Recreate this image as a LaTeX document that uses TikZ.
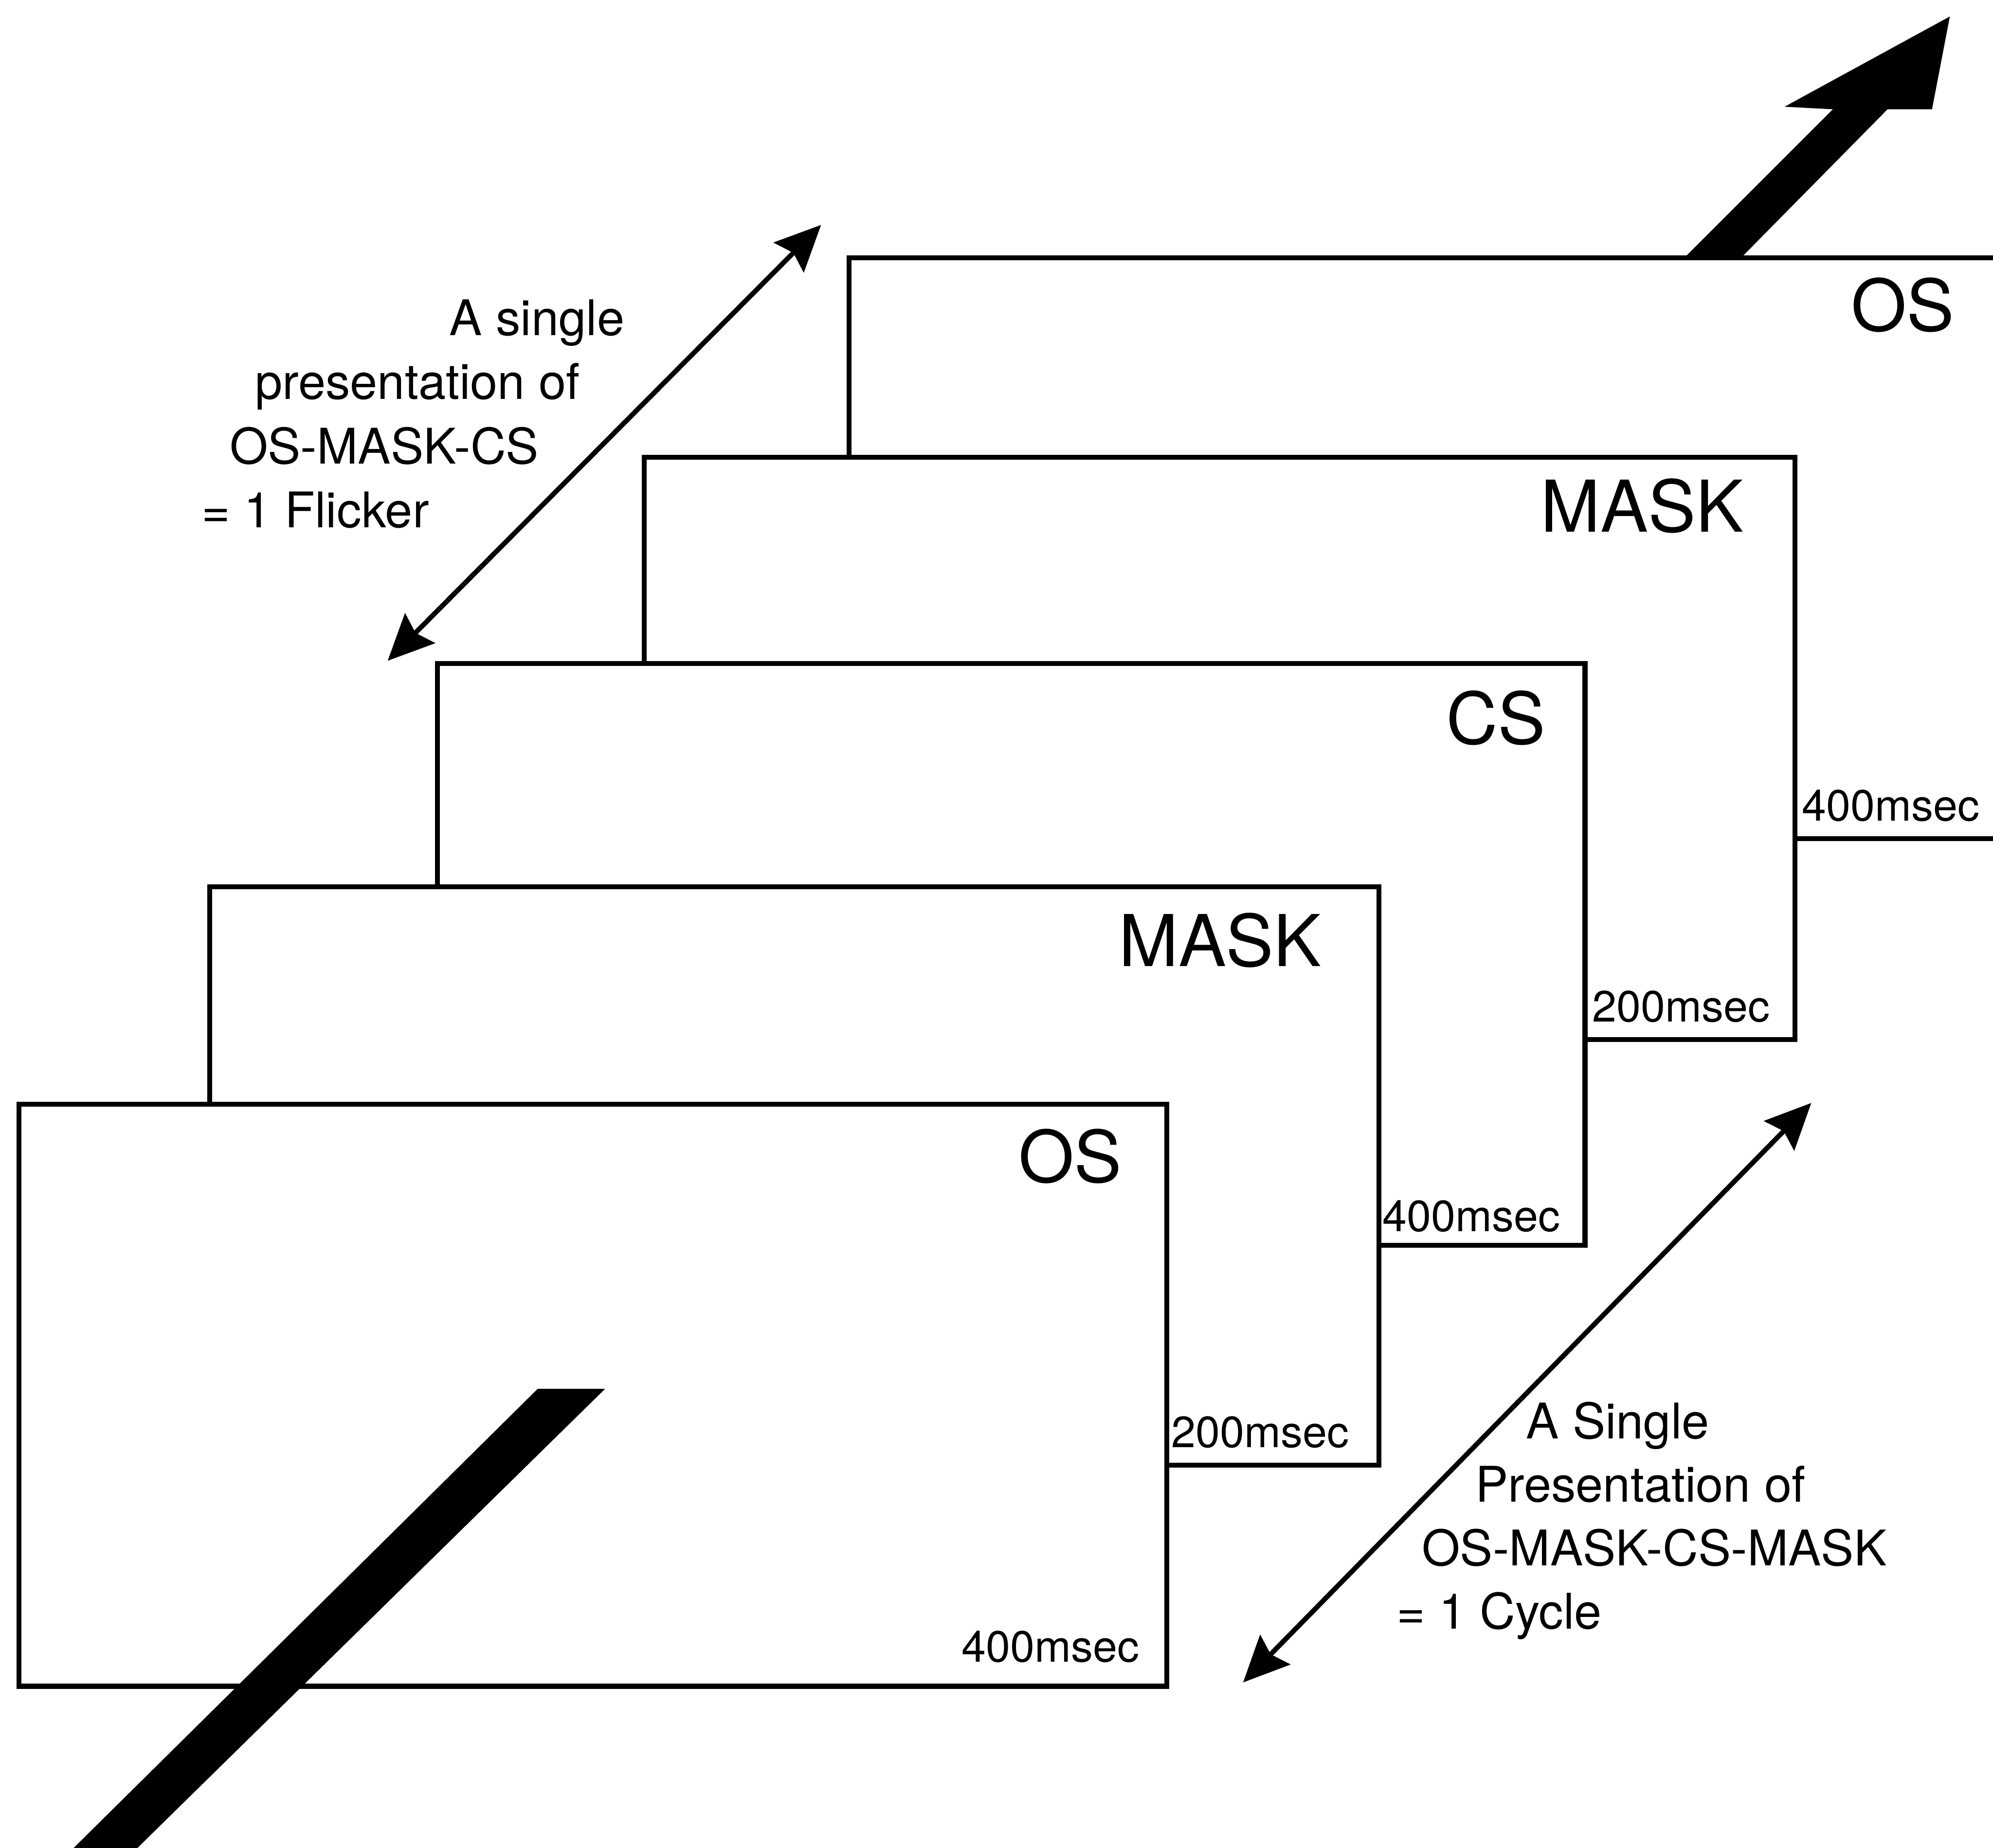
\documentclass[tikz,border=0pt]{standalone}
\usepackage{fontspec}
\setmainfont{TeX Gyre Heros}
\usetikzlibrary{arrows.meta}

\tikzset{
  frame/.style={line width=1.1pt, fill=white},
  biglab/.style={font=\fontsize{16}{19}\selectfont, inner sep=0pt},
  timelab/.style={font=\fontsize{9.8}{12}\selectfont, inner sep=0pt, anchor=base east},
  notelab/.style={font=\fontsize{11}{13}\selectfont, inner sep=0pt, anchor=base west},
  spanarrow/.style={line width=1.1pt,
    {Stealth[length=3.6mm,width=3.3mm,inset=0.5mm]}-{Stealth[length=3.6mm,width=3.3mm,inset=0.5mm]}},
}

\begin{document}
\begin{tikzpicture}
  \useasboundingbox (0,0) rectangle (15.68,14.54);
  \clip (0,0) rectangle (15.68,14.54);

  %%%%% TIME AXIS, BACK END %%%%%
  \fill (12.98,12.24) -- (13.43,12.24) -- (14.85,13.68) -- (15.20,13.68)
     -- (15.34,14.41) -- (14.04,13.70) -- (14.42,13.68) -- cycle;

  %%%%% FRAMES, BACK TO FRONT %%%%%
  \draw[frame] (6.68,7.94) rectangle (15.80,12.51);
  \node[biglab] (osB) at (14.97,12.14) {OS};
  \node[timelab] (tB) at (15.58,8.08) {400msec};

  \draw[frame] (5.07,6.36) rectangle (14.12,10.94);
  \node[biglab] (maskB) at (12.92,10.56) {MASK};
  \node[timelab] (tMB) at (13.93,6.50) {200msec};

  \draw[frame] (3.44,4.74) rectangle (12.47,9.32);
  \node[biglab] (cs) at (11.77,8.89) {CS};
  \node[timelab] (tC) at (12.28,4.85) {400msec};

  \draw[frame] (1.65,3.01) rectangle (10.85,7.56);
  \node[biglab] (maskA) at (9.60,7.14) {MASK};
  \node[timelab] (tMA) at (10.62,3.15) {200msec};

  \draw[frame] (0.15,1.27) rectangle (9.18,5.85);
  \node[biglab] (osA) at (8.42,5.44) {OS};
  \node[timelab] (tA) at (8.97,1.46) {400msec};

  %%%%% TIME AXIS, FRONT END %%%%%
  \fill (4.23,3.61) -- (4.76,3.61) -- (0.88,-0.2) -- (0.38,-0.2) -- cycle;

  %%%%% SPANS %%%%%
  \coordinate (flickA) at (3.05,9.34);
  \coordinate (flickB) at (6.46,12.77);
  \draw[spanarrow] (flickA) -- (flickB);

  \node[notelab] (fl1) at (3.53,11.90) {A single};
  \node[notelab] (fl2) at (2.00,11.40) {presentation of};
  \node[notelab] (fl3) at (1.80,10.89) {OS-MASK-CS};
  \node[notelab] (fl4) at (1.58,10.39) {= 1 Flicker};

  \coordinate (cycA) at (9.78,1.30);
  \coordinate (cycB) at (14.25,5.86);
  \draw[spanarrow] (cycA) -- (cycB);

  \node[notelab] (cy1) at (12.00,3.22) {A Single};
  \node[notelab] (cy2) at (11.60,2.72) {Presentation of};
  \node[notelab] (cy3) at (11.18,2.22) {OS-MASK-CS-MASK};
  \node[notelab] (cy4) at (10.98,1.72) {= 1 Cycle};
\end{tikzpicture}
\end{document}
